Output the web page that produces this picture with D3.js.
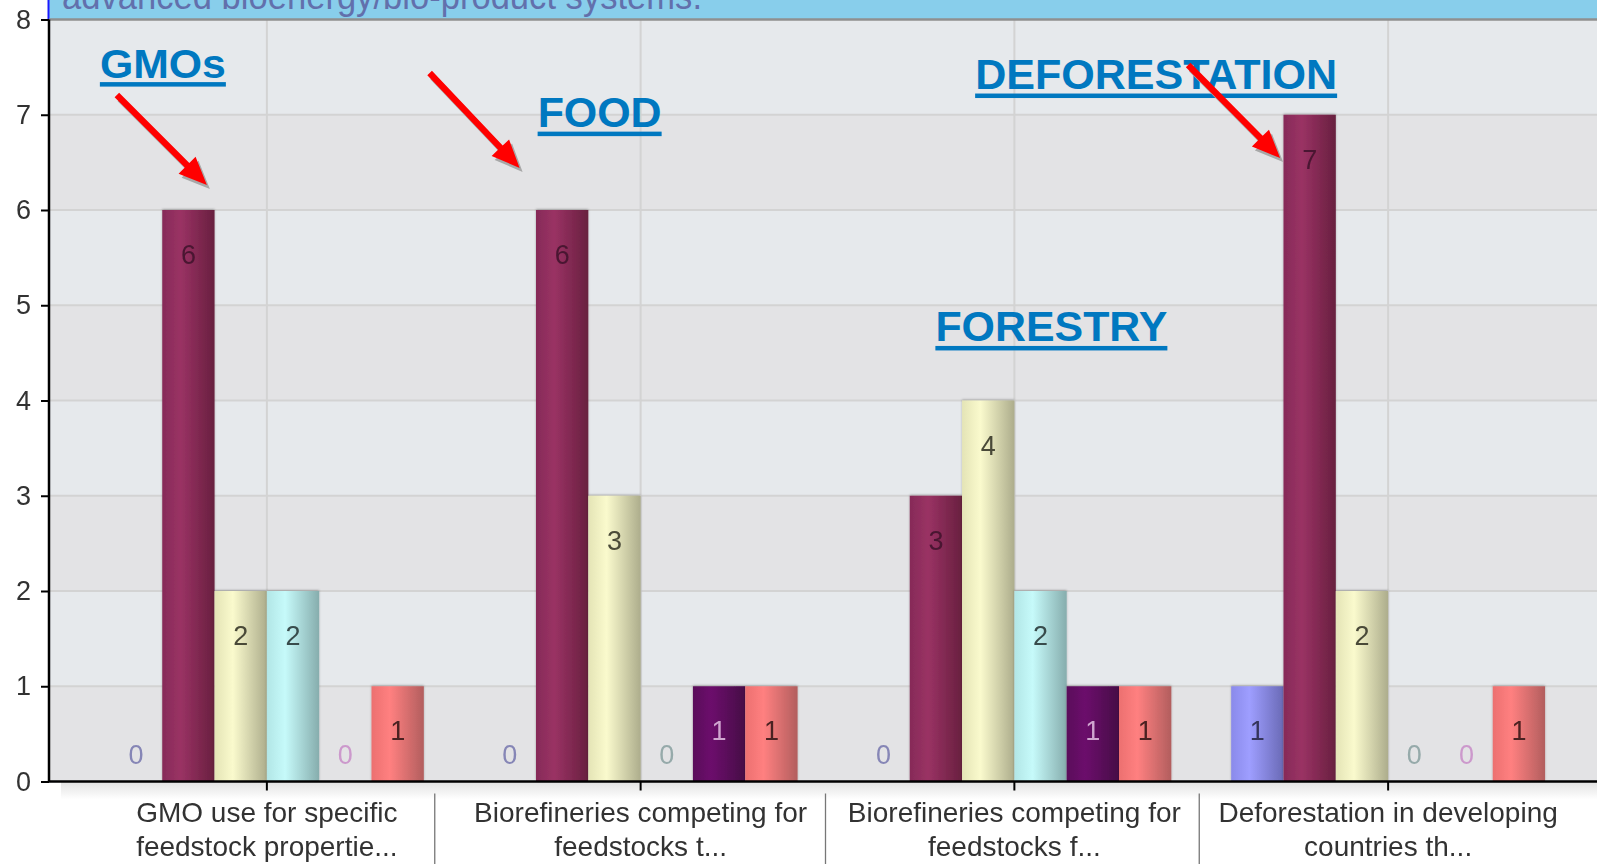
<!DOCTYPE html>
<html>
<head>
<meta charset="utf-8">
<script src="https://cdn.jsdelivr.net/npm/d3@7"></script>
<style>
body { margin: 0; background: #fff; overflow: hidden; }
svg { display: block; font-family: "Liberation Sans", Arial, sans-serif; }
</style>
</head>
<body>
<div id="chart"></div>
<script>
// chart data
const categories = ["GMO use", "Biorefineries 1", "Biorefineries 2", "Deforestation"];
const categoryLines = [
  ["GMO use for specific", "feedstock propertie..."],
  ["Biorefineries competing for", "feedstocks t..."],
  ["Biorefineries competing for", "feedstocks f..."],
  ["Deforestation in developing", "countries th..."]
];
const seriesNames = ["Series 1", "Series 2", "Series 3", "Series 4", "Series 5", "Series 6"];
const series1 = [0, 0, 0, 1];
const series2 = [6, 6, 3, 7];
const series3 = [2, 3, 4, 2];
const series4 = [2, 0, 2, 0];
const series5 = [0, 1, 1, 0];
const series6 = [1, 1, 1, 1];
const yTicks = [0, 1, 2, 3, 4, 5, 6, 7, 8];
const annotationLabels = ["GMOs", "FOOD", "DEFORESTATION", "FORESTRY"];
const bannerText = "advanced bioenergy/bio-product systems.";

const allSeries = [series1, series2, series3, series4, series5, series6];

const W = 1597, H = 864;
const MARGIN = { TOP: 19.5, LEFT: 49 };
const PLOT_H = 762;
const PLOT_W = W - MARGIN.LEFT;

// bar colours: left edge, highlight, right edge
const barGrad = [
  ["#8a8aea", "#9e9eff", "#6a6ab6"],
  ["#862b58", "#9a3264", "#68203f"],
  ["#e4e4b6", "#fafacd", "#adad8c"],
  ["#b2e6e6", "#c6fafa", "#86adad"],
  ["#5a0a5a", "#6c0a6c", "#460846"],
  ["#ec7070", "#ff8080", "#b25e5e"]
];
const labelColors = ["#34345a", "#4a1530", "#4a4a38", "#384c4c", "#d0a6d0", "#4a2020"];
const zeroColors = ["#8686b6", "#a06080", "#a0a080", "#96aaaa", "#cc99cc", "#c08080"];

const svg = d3.select("#chart").append("svg")
  .attr("width", W).attr("height", H);

const defs = svg.append("defs");
barGrad.forEach((c, i) => {
  const g = defs.append("linearGradient").attr("id", "bar" + i)
    .attr("x1", 0).attr("x2", 1).attr("y1", 0).attr("y2", 0);
  g.append("stop").attr("offset", "0%").attr("stop-color", c[0]);
  g.append("stop").attr("offset", "35%").attr("stop-color", c[1]);
  g.append("stop").attr("offset", "100%").attr("stop-color", c[2]);
});
const shade = defs.append("linearGradient").attr("id", "under")
  .attr("x1", 0).attr("x2", 0).attr("y1", 0).attr("y2", 1);
shade.append("stop").attr("offset", "0%").attr("stop-color", "#e2e2e2");
shade.append("stop").attr("offset", "100%").attr("stop-color", "#ffffff");
const f = defs.append("filter").attr("id", "soft")
  .attr("x", "-20%").attr("y", "-20%").attr("width", "140%").attr("height", "140%");
f.append("feDropShadow").attr("dx", 0).attr("dy", -1).attr("stdDeviation", 1.2)
  .attr("flood-color", "#000").attr("flood-opacity", 0.25);
const blur = defs.append("filter").attr("id", "blur");
blur.append("feGaussianBlur").attr("stdDeviation", 0.7);

// top banner (title area, cut off at the top edge as in the source)
svg.append("rect").attr("x", MARGIN.LEFT).attr("y", 0)
  .attr("width", PLOT_W).attr("height", MARGIN.TOP).attr("fill", "#88ceeb");
svg.append("line").attr("x1", MARGIN.LEFT - 0.5).attr("x2", MARGIN.LEFT - 0.5)
  .attr("y1", 0).attr("y2", MARGIN.TOP).attr("stroke", "#1a1aff").attr("stroke-width", 2);
svg.append("text").attr("x", 62).attr("y", 9)
  .attr("font-size", 36).attr("fill", "#6270ac")
  .attr("textLength", 640).attr("lengthAdjust", "spacingAndGlyphs")
  .text(bannerText);

const g = svg.append("g")
  .attr("transform", "translate(" + MARGIN.LEFT + "," + MARGIN.TOP + ")");

const x0 = d3.scaleBand().domain(categories).range([31, 1526]);
const x1 = d3.scaleBand().domain(d3.range(seriesNames.length))
  .range([0, x0.bandwidth()]).paddingOuter(0.572).paddingInner(0);
const y = d3.scaleLinear().domain([0, 8]).range([PLOT_H, 0]);

// alternating background bands
g.selectAll(".band").data(d3.range(8)).enter().append("rect")
  .attr("x", 0).attr("width", PLOT_W)
  .attr("y", d => y(d + 1)).attr("height", d => y(d) - y(d + 1))
  .attr("fill", d => d % 2 === 0 ? "#e3e3e5" : "#e6e9ec");

// grid
g.selectAll(".hgrid").data(yTicks.filter(t => t > 0 && t < 8)).enter().append("line")
  .attr("x1", 0).attr("x2", PLOT_W)
  .attr("y1", d => y(d)).attr("y2", d => y(d))
  .attr("stroke", "#d3d3d3").attr("stroke-width", 2);
g.selectAll(".vgrid").data(categories).enter().append("line")
  .attr("x1", d => x0(d) + x0.bandwidth() / 2).attr("x2", d => x0(d) + x0.bandwidth() / 2)
  .attr("y1", 0).attr("y2", PLOT_H)
  .attr("stroke", "#d3d3d3").attr("stroke-width", 2);
g.append("line").attr("x1", 0).attr("x2", PLOT_W).attr("y1", 0).attr("y2", 0)
  .attr("stroke", "#8f8f8f").attr("stroke-width", 2.5);

// shade under x axis
g.append("rect").attr("x", 12).attr("y", PLOT_H).attr("width", PLOT_W)
  .attr("height", 18).attr("fill", "url(#under)");

// bars
const groups = g.selectAll(".grp").data(categories).enter().append("g")
  .attr("transform", d => "translate(" + x0(d) + ",0)");

groups.each(function (cat, ci) {
  const grp = d3.select(this);
  const vals = allSeries.map((s, si) => ({ si, v: s[ci] }));
  grp.selectAll("rect").data(vals.filter(d => d.v > 0)).enter().append("rect")
    .attr("x", d => x1(d.si))
    .attr("y", d => y(d.v))
    .attr("width", x1.bandwidth())
    .attr("height", d => y(0) - y(d.v))
    .attr("fill", d => "url(#bar" + d.si + ")")
    .attr("filter", "url(#soft)");
  grp.selectAll("text").data(vals).enter().append("text")
    .attr("x", d => x1(d.si) + x1.bandwidth() / 2)
    .attr("y", d => d.v > 0 ? y(d.v) + 54 : y(0) - 18)
    .attr("text-anchor", "middle")
    .attr("font-size", 27)
    .attr("fill", d => d.v > 0 ? labelColors[d.si] : zeroColors[d.si])
    .attr("filter", "url(#blur)")
    .text(d => d.v);
});

// axes
const yAxis = g.append("g").call(d3.axisLeft(y).tickValues(yTicks).tickSize(8).tickPadding(10));
yAxis.select(".domain").attr("stroke", "#000").attr("stroke-width", 2.5)
  .attr("d", "M0," + y(8) + "V" + y(0));
yAxis.selectAll(".tick line").attr("stroke", "#000").attr("stroke-width", 2);
yAxis.selectAll(".tick text").attr("font-size", 27).attr("fill", "#333")
  .attr("font-family", "'Liberation Sans', Arial, sans-serif").attr("filter", "url(#blur)");

const xAxis = g.append("g").attr("transform", "translate(0," + PLOT_H + ")")
  .call(d3.axisBottom(x0).tickSize(9).tickFormat(""));
xAxis.select(".domain").attr("stroke", "#000").attr("stroke-width", 2.5)
  .attr("d", "M0,0H" + PLOT_W);
xAxis.selectAll(".tick line").attr("stroke", "#000").attr("stroke-width", 2);

// category labels, two lines
categories.forEach((c, i) => {
  const t = g.append("text")
    .attr("x", x0(c) + x0.bandwidth() / 2)
    .attr("y", PLOT_H + 40)
    .attr("text-anchor", "middle")
    .attr("font-size", 28).attr("fill", "#333")
    .attr("filter", "url(#blur)");
  categoryLines[i].forEach((line, li) => {
    t.append("tspan").attr("x", x0(c) + x0.bandwidth() / 2)
      .attr("dy", li === 0 ? 0 : 34).text(line);
  });
});
// separators between label boxes
g.selectAll(".sep").data(categories.slice(1)).enter().append("line")
  .attr("x1", (d, i) => x0(d) - (i === 0 ? 19 : 2))
  .attr("x2", (d, i) => x0(d) - (i === 0 ? 19 : 2))
  .attr("y1", PLOT_H + 12).attr("y2", H)
  .attr("stroke", "#777").attr("stroke-width", 1.3);

// annotations: offsets from category centre (px) and y in data units
const center = i => x0(categories[i]) + x0.bandwidth() / 2;
const notes = [
  { cat: 0, dx: -167, v: 7.39, w: 126, size: 40 },
  { cat: 1, dx: -103, v: 6.87, w: 124, size: 42 },
  { cat: 3, dx: -413, v: 7.27, w: 362, size: 42 },
  { cat: 2, dx: -79, v: 4.62, w: 232, size: 42 }
];
notes.forEach((n, i) => {
  const nx = center(n.cat) + n.dx, ny = y(n.v);
  g.append("text").attr("x", nx).attr("y", ny)
    .attr("font-size", n.size).attr("font-weight", "bold").attr("fill", "#0078c0")
    .attr("textLength", n.w).attr("lengthAdjust", "spacingAndGlyphs")
    .text(annotationLabels[i]);
  g.append("rect").attr("x", nx).attr("y", ny + 4.5).attr("width", n.w).attr("height", 4.5)
    .attr("fill", "#0078c0");
});

const arrows = [
  { cat: 0, from: [-150, 7.207], to: [-60, 6.262] },
  { cat: 1, from: [-211, 7.438], to: [-121, 6.441] },
  { cat: 3, from: [-200, 7.522], to: [-108, 6.546] }
];
function arrowPath(x1p, y1p, x2p, y2p) {
  const dx = x2p - x1p, dy = y2p - y1p, len = Math.hypot(dx, dy);
  const ux = dx / len, uy = dy / len, px = -uy, py = ux;
  const sw = 3.2, hl = 28, hw = 12;
  const bx = x2p - ux * hl, by = y2p - uy * hl;
  const pts = [
    [x1p + px * sw, y1p + py * sw],
    [bx + px * sw, by + py * sw],
    [bx + px * hw, by + py * hw],
    [x2p, y2p],
    [bx - px * hw, by - py * hw],
    [bx - px * sw, by - py * sw],
    [x1p - px * sw, y1p - py * sw]
  ];
  return "M" + pts.map(p => p.join(",")).join("L") + "Z";
}
arrows.forEach(a => {
  const ax = center(a.cat) + a.from[0], ay = y(a.from[1]);
  const bx = center(a.cat) + a.to[0], by = y(a.to[1]);
  g.append("path").attr("d", arrowPath(ax + 3, ay + 4, bx + 3, by + 4))
    .attr("fill", "#a8a8a8").attr("filter", "url(#blur)");
  g.append("path").attr("d", arrowPath(ax, ay, bx, by)).attr("fill", "#ff0000");
});
</script>
</body>
</html>
